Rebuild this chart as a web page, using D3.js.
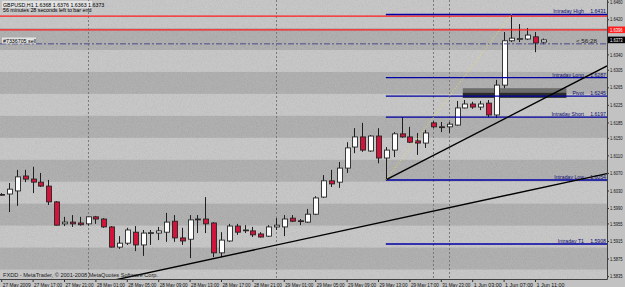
<!DOCTYPE html>
<html>
<head>
<meta charset="utf-8">
<script src="https://cdnjs.cloudflare.com/ajax/libs/d3/7.8.5/d3.min.js"></script>
<style>
  body { margin: 0; background: #c2c2c2; }
  svg { display: block; }
  text { font-family: "Liberation Sans", Arial, sans-serif; }
</style>
</head>
<body>
<script>
// GBPUSD H1, 27 May 13:00 .. 1 Jun 12:00 (bar index 0..69)
const opens  = [1.6021,1.6022,1.6029,1.6063,1.6056,1.6049,1.6040,1.6004,1.5954,1.5958,
                1.5956,1.5954,1.5970,1.5965,1.5947,1.5901,1.5910,1.5935,1.5906,1.5933,
                1.5933,1.5935,1.5960,1.5922,1.5919,1.5964,1.5965,1.5956,1.5888,1.5915,
                1.5949,1.5940,1.5938,1.5931,1.5926,1.5947,1.5947,1.5967,1.5961,1.5958,
                1.5976,1.6015,1.6052,1.6049,1.6081,1.6129,1.6152,1.6120,1.6154,1.6104,
                1.6122,1.6159,1.6152,1.6143,1.6138,1.6184,1.6175,1.6175,1.6179,1.6218,
                1.6227,1.6220,1.6229,1.6202,1.6270,1.6371,1.6375,1.6375,1.6380,1.6368];
const highs  = [1.6024,1.6047,1.6077,1.6077,1.6084,1.6070,1.6054,1.6006,1.5970,1.5974,
                1.5970,1.5971,1.5972,1.5967,1.5949,1.5926,1.5945,1.5949,1.5940,1.5940,
                1.5947,1.5979,1.5974,1.5945,1.5974,1.5974,1.6015,1.5958,1.5935,1.5954,
                1.5954,1.5951,1.5947,1.5935,1.5951,1.5967,1.5974,1.5974,1.5965,1.5988,
                1.6017,1.6065,1.6077,1.6095,1.6140,1.6172,1.6184,1.6156,1.6172,1.6129,
                1.6163,1.6197,1.6175,1.6161,1.6168,1.6188,1.6186,1.6186,1.6234,1.6236,
                1.6232,1.6234,1.6236,1.6282,1.6391,1.6431,1.6409,1.6400,1.6391,1.6376];
const lows   = [1.6018,1.5981,1.5995,1.6049,1.6024,1.6038,1.5997,1.5950,1.5949,1.5947,
                1.5950,1.5950,1.5954,1.5945,1.5900,1.5897,1.5906,1.5892,1.5881,1.5906,
                1.5917,1.5913,1.5913,1.5906,1.5876,1.5933,1.5933,1.5878,1.5878,1.5913,
                1.5929,1.5933,1.5924,1.5923,1.5924,1.5940,1.5926,1.5958,1.5951,1.5956,
                1.5974,1.6013,1.6038,1.6036,1.6070,1.6115,1.6118,1.6118,1.6092,1.6054,
                1.6106,1.6150,1.6138,1.6111,1.6127,1.6172,1.6163,1.6161,1.6178,1.6217,
                1.6216,1.6213,1.6197,1.6195,1.6263,1.6368,1.6368,1.6373,1.6345,1.6363];
const closes = [1.6020,1.6033,1.6061,1.6056,1.6049,1.6040,1.6004,1.5951,1.5958,1.5954,
                1.5952,1.5970,1.5965,1.5947,1.5901,1.5910,1.5940,1.5906,1.5933,1.5934,
                1.5938,1.5958,1.5922,1.5915,1.5963,1.5965,1.5954,1.5888,1.5917,1.5949,
                1.5935,1.5939,1.5929,1.5924,1.5947,1.5951,1.5965,1.5960,1.5960,1.5976,
                1.6013,1.6052,1.6045,1.6081,1.6127,1.6152,1.6122,1.6154,1.6104,1.6122,
                1.6159,1.6152,1.6140,1.6138,1.6161,1.6175,1.6174,1.6181,1.6218,1.6227,
                1.6220,1.6227,1.6202,1.6270,1.6371,1.6377,1.6376,1.6384,1.6366,1.6373];

// time axis labels, one every 4 bars
const timeTicks  = [0,4,8,12,16,20,24,28,32,36,40,44,48,52,56,60,64,68];
const timeLabels = ["27 May 2009","27 May 17:00","27 May 21:00","28 May 01:00","28 May 05:00",
                    "28 May 09:00","28 May 13:00","28 May 17:00","28 May 21:00","29 May 01:00",
                    "29 May 05:00","29 May 09:00","29 May 13:00","29 May 17:00","31 May 23:00",
                    "1 Jun 03:00","1 Jun 07:00","1 Jun 11:00"];
const daySeparators = [11, 35, 55, 57];

// price axis labels (1.6380 sits under the price markers)
const priceTicks = [1.6460,1.6420,1.6340,1.6305,1.6265,1.6225,1.6185,1.6150,
                    1.6110,1.6070,1.6030,1.5990,1.5955,1.5915,1.5875,1.5835];

// shaded 50-pip zones
const darkZones = [[1.6350,1.6400],[1.6250,1.6300],[1.6150,1.6200],
                   [1.6050,1.6100],[1.5950,1.6000],[1.5850,1.5900]];

// intraday levels (start at bar 49)
const levelNames  = ["Intraday High","Intraday Long","Pivot","Intraday Short","Intraday Low","Intraday  T1"];
const levelPrices = [1.6431,1.6287,1.6245,1.6197,1.6054,1.5908];
const levelStart  = 49;

// other chart objects
const redLines   = [1.6427, 1.6396];
const orderPrice = 1.6364;
const bidPrice   = 1.6373;
const trend1 = [[27, 1.58746], [73, 1.60523]];
const trend2 = [[49, 1.6054], [73, 1.62753]];
const fibLine = [[49, 1.6054], [65, 1.6431]];
const pivotBox = [[58.8, 72], [1.6263, 1.6253, 1.6241]];

const W = 625, H = 287, plotW = 607, plotH = 279;
const narrow = "'Liberation Sans Narrow', 'Liberation Sans', Arial, sans-serif";

const x = d3.scaleLinear().domain([0, 69]).range([1.2, 542.85]);
const y = d3.scaleLinear().domain([1.5835, 1.6460]).range([276.1, 1.7]);

const svg = d3.select("body").append("svg")
  .attr("width", W).attr("height", H);

const defs = svg.append("defs");
defs.append("clipPath").attr("id", "plotclip")
  .append("rect").attr("width", plotW).attr("height", plotH);
const f = defs.append("filter").attr("id", "noise")
  .attr("x", 0).attr("y", 0).attr("width", "100%").attr("height", "100%");
f.append("feTurbulence").attr("type", "fractalNoise")
  .attr("baseFrequency", 1.2).attr("numOctaves", 1).attr("seed", 4);
f.append("feColorMatrix").attr("type", "matrix")
  .attr("values", "1 0 0 0 0  1 0 0 0 0  1 0 0 0 0  0 0 0 0 0.13");

const plot = svg.append("g").attr("clip-path", "url(#plotclip)");

// background + zones
plot.append("rect").attr("width", plotW).attr("height", plotH).attr("fill", "#c6c6c6");
plot.selectAll(".zone").data(darkZones).enter().append("rect")
  .attr("x", 0).attr("width", plotW)
  .attr("y", d => y(d[1])).attr("height", d => y(d[0]) - y(d[1]))
  .attr("fill", "#acacac");
plot.append("rect").attr("width", plotW).attr("height", plotH)
  .attr("filter", "url(#noise)");

// pivot box
plot.append("rect")
  .attr("x", x(pivotBox[0][0])).attr("width", x(pivotBox[0][1]) - x(pivotBox[0][0]))
  .attr("y", y(pivotBox[1][0])).attr("height", y(pivotBox[1][1]) - y(pivotBox[1][0]))
  .attr("fill", "#6e6e6e");
plot.append("rect")
  .attr("x", x(pivotBox[0][0])).attr("width", x(pivotBox[0][1]) - x(pivotBox[0][0]))
  .attr("y", y(pivotBox[1][1])).attr("height", y(pivotBox[1][2]) - y(pivotBox[1][1]))
  .attr("fill", "#2c2c2c");

// day separators
plot.selectAll(".sep").data(daySeparators).enter().append("line")
  .attr("x1", d => Math.round(x(d)) + 0.5).attr("x2", d => Math.round(x(d)) + 0.5)
  .attr("y1", 0).attr("y2", plotH)
  .attr("stroke", "#7a7a7a").attr("stroke-width", 1).attr("stroke-dasharray", "2,2");

// candles
const bars = d3.range(opens.length);
const cg = plot.append("g");
cg.selectAll(".wick").data(bars).enter().append("line")
  .attr("x1", i => Math.round(x(i)) + 0.5).attr("x2", i => Math.round(x(i)) + 0.5)
  .attr("y1", i => y(highs[i])).attr("y2", i => y(lows[i]))
  .attr("stroke", "#1e1e1e").attr("stroke-width", 1);
cg.selectAll(".body").data(bars).enter().append("rect")
  .attr("x", i => Math.round(x(i)) - 2 + 0.5)
  .attr("width", 5)
  .attr("y", i => y(Math.max(opens[i], closes[i])))
  .attr("height", i => Math.max(0.8, Math.abs(y(opens[i]) - y(closes[i]))))
  .attr("fill", i => closes[i] >= opens[i] ? "#ffffff" : "#d0143c")
  .attr("stroke", "#262626").attr("stroke-width", 0.9);

// red lines
plot.selectAll(".red").data(redLines).enter().append("line")
  .attr("x1", 0).attr("x2", plotW)
  .attr("y1", d => y(d)).attr("y2", d => y(d))
  .attr("stroke", "#ff1c1c").attr("stroke-width", 1.2);

// order line
plot.append("line")
  .attr("x1", 0).attr("x2", plotW).attr("y1", y(orderPrice)).attr("y2", y(orderPrice))
  .attr("stroke", "#4a4a8c").attr("stroke-width", 1).attr("stroke-dasharray", "6,2,2,2");

// intraday levels
plot.selectAll(".lvl").data(levelPrices).enter().append("line")
  .attr("x1", x(levelStart)).attr("x2", plotW)
  .attr("y1", d => y(d)).attr("y2", d => y(d))
  .attr("stroke", "#0000a4").attr("stroke-width", 1.4);
plot.selectAll(".lvlname").data(levelNames).enter().append("text")
  .attr("x", 584).attr("y", (d, i) => y(levelPrices[i]) - 1)
  .attr("text-anchor", "end").attr("font-size", 5.2).attr("fill", "#101070")
  .text(d => d);
plot.selectAll(".lvlprice").data(levelPrices).enter().append("text")
  .attr("x", 606).attr("y", d => y(d) - 1)
  .attr("text-anchor", "end").attr("font-size", 5.2).attr("fill", "#101070")
  .text(d => d.toFixed(4));

// trend lines, extended to the right edge
function ray(pts, extendLeft) {
  const [a, b] = pts;
  const slope = (b[1] - a[1]) / (b[0] - a[0]);
  const i0 = extendLeft ? -5 : a[0];
  const i1 = x.invert(plotW);
  return [[x(i0), y(a[1] + slope * (i0 - a[0]))], [x(i1), y(a[1] + slope * (i1 - a[0]))]];
}
[ray(trend1, true), ray(trend2, false)].forEach(seg => {
  plot.append("line")
    .attr("x1", seg[0][0]).attr("y1", seg[0][1]).attr("x2", seg[1][0]).attr("y2", seg[1][1])
    .attr("stroke", "#000").attr("stroke-width", 1.4);
});
plot.append("line")
  .attr("x1", x(fibLine[0][0])).attr("y1", y(fibLine[0][1]))
  .attr("x2", x(fibLine[1][0])).attr("y2", y(fibLine[1][1]))
  .attr("stroke", "#e8e05a").attr("stroke-width", 1).attr("stroke-dasharray", "1,2");

// header texts
const hdr = svg.append("g");
hdr.append("rect").attr("x", 2).attr("y", 1).attr("width", 90).attr("height", 7).attr("fill", "#e2e2e2");
hdr.append("text").attr("x", 3).attr("y", 6.5).attr("font-size", 5.3).attr("fill", "#000")
  .text("GBPUSD,H1  " + [opens[69], highs[69], lows[69], closes[69]].map(d => d.toFixed(4)).join(" "));
hdr.append("text").attr("x", 3).attr("y", 12.3).attr("font-size", 5.3).attr("fill", "#000")
  .text("56 minutes 28 seconds left to bar end");
hdr.append("rect").attr("x", 2).attr("y", 37.5).attr("width", 34).attr("height", 6).attr("fill", "#e2e2e2");
hdr.append("text").attr("x", 3).attr("y", 42.5).attr("font-size", 5.3).attr("fill", "#000")
  .text("#7336705 sell");
hdr.append("text").attr("x", 576).attr("y", 42.5).attr("font-size", 6.2)
  .attr("font-family", "Liberation Mono, monospace").attr("fill", "#1a1a1a")
  .text("< 56:28");
hdr.append("text").attr("x", 3).attr("y", 277).attr("font-size", 5.6).attr("fill", "#1a1a1a")
  .text("FXDD - MetaTrader, \u00a9 2001-2008 MetaQuotes Software Corp.");

// axes
const xAxis = d3.axisBottom(x).tickValues(timeTicks)
  .tickFormat((d, i) => timeLabels[i]).tickSize(3).tickPadding(1);
const gx = svg.append("g").attr("transform", `translate(0,${plotH})`).call(xAxis);
gx.select(".domain").remove();
gx.selectAll("text").attr("text-anchor", "start").attr("dx", 1)
  .attr("font-size", 5.4).attr("fill", "#111").attr("font-family", narrow)
  .attr("textLength", 28).attr("lengthAdjust", "spacingAndGlyphs");
gx.selectAll("line").attr("stroke", "#333");

const yAxis = d3.axisRight(y).tickValues(priceTicks).tickFormat(d3.format(".4f"))
  .tickSize(2).tickPadding(1);
const gy = svg.append("g").attr("transform", `translate(${plotW},0)`).call(yAxis);
gy.select(".domain").remove();
gy.selectAll("text").attr("font-size", 5.2).attr("fill", "#111").attr("font-family", narrow)
  .attr("textLength", 12.5).attr("lengthAdjust", "spacingAndGlyphs");
gy.selectAll("line").attr("stroke", "#333");

// plot border
svg.append("line").attr("x1", plotW + 0.5).attr("x2", plotW + 0.5).attr("y1", 0).attr("y2", plotH + 0.5)
  .attr("stroke", "#404040");
svg.append("line").attr("x1", 0).attr("x2", plotW + 0.5).attr("y1", plotH + 0.5).attr("y2", plotH + 0.5)
  .attr("stroke", "#404040");

// price markers on the axis
function marker(price, bg) {
  svg.append("rect").attr("x", plotW + 1).attr("y", y(price) - 3.3).attr("width", 17).attr("height", 6.6)
    .attr("fill", bg);
  svg.append("text").attr("x", plotW + 3).attr("y", y(price) + 1.9).attr("font-size", 5.2)
    .attr("font-family", narrow).attr("textLength", 12.5).attr("lengthAdjust", "spacingAndGlyphs")
    .attr("fill", "#fff").text(price.toFixed(4));
}
marker(redLines[1], "#ff1f1f");
marker(bidPrice, "#000");
</script>
</body>
</html>
